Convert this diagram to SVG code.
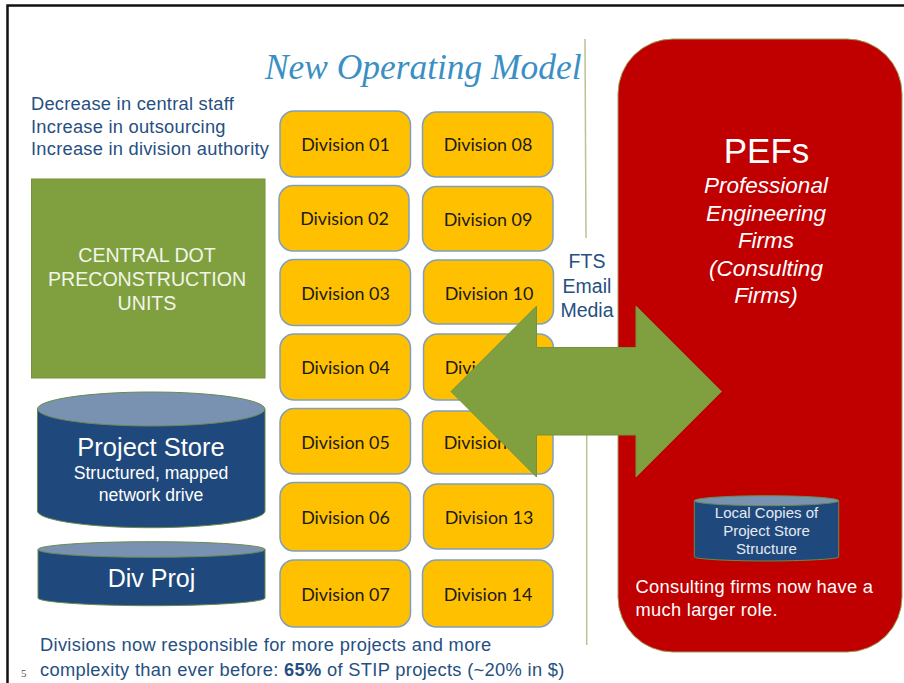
<svg xmlns="http://www.w3.org/2000/svg" width="904" height="683" viewBox="0 0 904 683">
<style>
.s{font-family:"Liberation Sans",Arial,sans-serif}
.b{fill:#264f82}
.w{fill:#fff}
.dv rect{fill:#ffc000;stroke:#7f9fbf;stroke-width:1.5}
.dv text{font-family:Lato,"Open Sans",sans-serif;font-size:17.9px;fill:#1a1a1a;text-anchor:middle}
.cb{fill:#1f497d;stroke:#6b8a4a;stroke-width:1}
.ct{fill:#7a92b2;stroke:#6b8a4a;stroke-width:1}
.m{text-anchor:middle}
.v{stroke:#b9c394;stroke-width:1.5;fill:none}
</style>
<rect width="904" height="683" fill="#fff"/>
<path d="M7.500 683V5.500H904" fill="none" stroke="#111" stroke-width="2.500"/>
<text id="title" x="265" y="78.500" font-family="Liberation Serif,serif" font-style="italic" font-size="35.400" fill="#3a8fc4">New Operating Model</text>
<g id="intro" class="s b" font-size="18.300" letter-spacing="0.250">
<text x="31" y="109.500">Decrease in central staff</text>
<text x="31" y="132.500">Increase in outsourcing</text>
<text x="31" y="155">Increase in division authority</text>
</g>
<g id="connectors">
<path class="v" d="M585 39L586 238"/>
<path class="v" d="M586.700 435V645"/>
</g>
<g id="central-dot">
<rect x="31.500" y="179" width="233.500" height="199" fill="#80a040" stroke="#74933a"/>
<g class="s m" font-size="19.600" fill="#f2f5ea">
<text x="147" y="262">CENTRAL DOT</text>
<text x="147" y="286">PRECONSTRUCTION</text>
<text x="147" y="310">UNITS</text>
</g>
</g>
<g id="project-store">
<path class="cb" d="M37.500 409V511C37.500 520 88 527.700 151 527.700S265 520 265 511V409Z"/>
<ellipse class="ct" cx="151.200" cy="409" rx="113.700" ry="17"/>
<g class="s w m">
<text x="151" y="456" font-size="25.500">Project Store</text>
<text x="151" y="478.500" font-size="17.600">Structured, mapped</text>
<text x="151" y="501" font-size="17.600">network drive</text>
</g>
</g>
<g id="div-proj">
<path class="cb" d="M38 549.500V598C38 602 88 605.700 151.500 605.700S265 602 265 598V549.500Z"/>
<ellipse class="ct" cx="151.500" cy="549.500" rx="113.500" ry="7.800"/>
<text class="s w m" x="151.500" y="587" font-size="25">Div Proj</text>
</g>
<g id="division-01" class="dv"><rect x="280" y="111" width="130.500" height="66" rx="14"/><text x="345.500" y="151">Division 01</text></g>
<g id="division-02" class="dv"><rect x="279" y="185.500" width="130" height="65.500" rx="14"/><text x="344.500" y="225">Division 02</text></g>
<g id="division-03" class="dv"><rect x="280" y="259.500" width="130.500" height="66" rx="14"/><text x="345.500" y="299.500">Division 03</text></g>
<g id="division-04" class="dv"><rect x="280" y="334" width="130.500" height="66" rx="14"/><text x="345.500" y="374">Division 04</text></g>
<g id="division-05" class="dv"><rect x="280" y="408.500" width="130.500" height="65.500" rx="14"/><text x="345.500" y="448.500">Division 05</text></g>
<g id="division-06" class="dv"><rect x="280" y="482.500" width="130.500" height="68.500" rx="14"/><text x="345.500" y="523.500">Division 06</text></g>
<g id="division-07" class="dv"><rect x="280" y="560" width="130.500" height="67" rx="14"/><text x="345.500" y="600.500">Division 07</text></g>
<g id="division-08" class="dv"><rect x="422.500" y="112" width="130.500" height="65" rx="14"/><text x="488" y="151">Division 08</text></g>
<g id="division-09" class="dv"><rect x="422.500" y="186.500" width="130.500" height="64.500" rx="14"/><text x="488" y="225.500">Division 09</text></g>
<g id="division-10" class="dv"><rect x="423.500" y="260" width="130" height="64" rx="14"/><text x="489" y="299.500">Division 10</text></g>
<g id="division-11" class="dv"><rect x="423.500" y="334" width="130" height="66" rx="14"/><text x="489" y="374">Division 11</text></g>
<g id="division-12" class="dv"><rect x="422.500" y="411" width="130.500" height="63" rx="14"/><text x="488" y="449">Division 12</text></g>
<g id="division-13" class="dv"><rect x="423.500" y="484" width="130" height="65" rx="14"/><text x="489" y="523.500">Division 13</text></g>
<g id="division-14" class="dv"><rect x="422.500" y="560" width="130.500" height="67" rx="14"/><text x="488" y="600.500">Division 14</text></g>
<g id="channels" class="s b m" font-size="19.500">
<text x="587" y="268">FTS</text>
<text x="587" y="292.500">Email</text>
<text x="587" y="317">Media</text>
</g>
<g id="pefs">
<rect x="618" y="39" width="284" height="613" rx="55" fill="#c00000" stroke="#9aa05a" stroke-width="1"/>
<g class="s w m">
<text x="766.500" y="162.500" font-size="35">PEFs</text>
<g font-size="22.500" font-style="italic">
<text x="766" y="193">Professional</text>
<text x="766" y="221">Engineering</text>
<text x="766" y="248">Firms</text>
<text x="766" y="276">(Consulting</text>
<text x="766" y="303">Firms)</text>
</g>
</g>
<text class="s w" font-size="18.300" letter-spacing="0.300"><tspan x="635.500" y="593">Consulting firms now have a</tspan><tspan x="635.500" y="616">much larger role.</tspan></text>
</g>
<g id="exchange-arrow">
<path d="M451 391.500L536.500 306V347.500H636V306L721.500 391.500L636 477V435H536.500V477Z" fill="#80a040" stroke="#74933a"/>
</g>
<g id="local-copies">
<path class="cb" d="M694.300 500.700V557C694.300 559 730 561 766.500 561S838.700 559 838.700 557V500.700Z"/>
<ellipse class="ct" cx="766.500" cy="500.700" rx="72.200" ry="5"/>
<g class="s m" font-size="15" fill="#e6ebf2">
<text x="766.500" y="518">Local Copies of</text>
<text x="766.500" y="536">Project Store</text>
<text x="766.500" y="554">Structure</text>
</g>
</g>
<g id="footer" class="s b" font-size="18.300" letter-spacing="0.320">
<text x="40" y="651">Divisions now responsible for more projects and more</text>
<text x="40" y="675.500">complexity than ever before: <tspan font-weight="bold">65%</tspan> of STIP projects (~20% in $)</text>
</g>
<text id="page-number" x="21" y="677" font-family="Liberation Serif,serif" font-size="11" fill="#555">5</text>
</svg>
